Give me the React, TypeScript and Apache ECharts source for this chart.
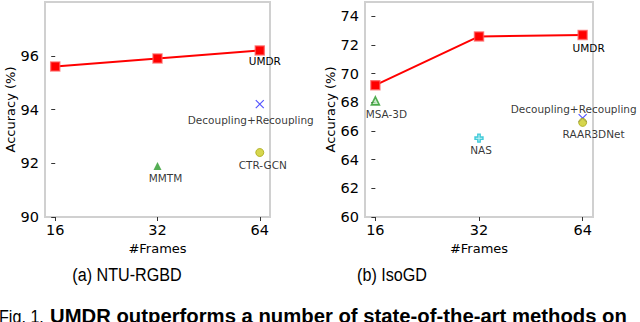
import React, { useEffect, useRef } from "react";
import * as echarts from "echarts";

// ---- data ----
const frames = ["16", "32", "64"];

const ntuUMDR = [95.6, 95.9, 96.2];
const ntuMethods = ["MMTM", "CTR-GCN", "Decoupling+Recoupling"];
const ntuMethodFrame = [1, 2, 2];
const ntuMethodAcc = [91.9, 92.4, 94.2];
const ntuYTicks = [90, 92, 94, 96];

const isoUMDR = [69.2, 72.6, 72.7];
const isoMethods = ["MSA-3D", "NAS", "Decoupling+Recoupling", "RAAR3DNet"];
const isoMethodFrame = [0, 1, 2, 2];
const isoMethodAcc = [68.1, 65.5, 66.9, 66.6];
const isoYTicks = [60, 62, 64, 66, 68, 70, 72, 74];

const subtitles = ["(a) NTU-RGBD", "(b) IsoGD"];
const captionPrefix = "Fig. 1.";
const captionBold = "UMDR outperforms a number of state-of-the-art methods on";

// ---- styles ----
const FONT = "DejaVu Sans";
const crossPath = "path://M0,0L10,10M10,0L0,10";
const plusPath = "path://M3.5,0H6.5V3.5H10V6.5H6.5V10H3.5V6.5H0V3.5H3.5Z";

const markerStyle: Record<string, any> = {
  MMTM: { symbol: "triangle", symbolSize: 8, itemStyle: { color: "#2a9a2a" } },
  "MSA-3D": {
    symbol: "triangle",
    symbolSize: 8,
    itemStyle: { color: "#bfe6bf", borderColor: "#2a9a2a", borderWidth: 1.6 },
  },
  "CTR-GCN": {
    symbol: "circle",
    symbolSize: 8,
    itemStyle: { color: "#cccc22", borderColor: "#a8a810", borderWidth: 1 },
  },
  RAAR3DNet: {
    symbol: "circle",
    symbolSize: 8,
    itemStyle: { color: "#cccc22", borderColor: "#a8a810", borderWidth: 1 },
  },
  "Decoupling+Recoupling": {
    symbol: crossPath,
    symbolSize: 8,
    itemStyle: { color: "none", borderColor: "#2b2bff", borderWidth: 1.2 },
  },
  NAS: {
    symbol: plusPath,
    symbolSize: 8,
    itemStyle: { color: "#b8f0f4", borderColor: "#17becf", borderWidth: 1.4 },
  },
};

const ntuLabelOffset: Record<string, number[]> = {
  UMDR: [5, 11],
  MMTM: [8, 12],
  "CTR-GCN": [3, 12],
  "Decoupling+Recoupling": [-9, 16],
};
const isoLabelOffset: Record<string, number[]> = {
  UMDR: [6, 13],
  "MSA-3D": [11, 13],
  NAS: [2, 12],
  RAAR3DNet: [11, 12],
  "Decoupling+Recoupling": [-9, -9],
};

function labelOf(offset: number[]) {
  return {
    show: true,
    position: "inside",
    offset,
    formatter: "{a}",
    color: "#000",
    fontFamily: FONT,
    fontSize: 10.5,
  };
}

function buildSeries(
  idx: number,
  umdr: number[],
  methods: string[],
  mFrame: number[],
  mAcc: number[],
  offsets: Record<string, number[]>
) {
  const series: any[] = [];
  methods.forEach((m, i) => {
    const st = markerStyle[m];
    series.push({
      type: "scatter",
      name: m,
      xAxisIndex: idx,
      yAxisIndex: idx,
      symbol: st.symbol,
      symbolSize: st.symbolSize,
      itemStyle: st.itemStyle,
      label: labelOf(offsets[m]),
      data: [[mFrame[i], mAcc[i]]],
      z: m === "Decoupling+Recoupling" ? 2 : 3,
    });
  });
  series.push({
    type: "line",
    name: "UMDR",
    xAxisIndex: idx,
    yAxisIndex: idx,
    symbol: "rect",
    symbolSize: 9,
    lineStyle: { color: "#ff0000", width: 2 },
    itemStyle: { color: "#ff0000", borderColor: "rgba(255,90,90,0.7)", borderWidth: 1.5 },
    data: umdr.map((v, i) => ({
      value: [i, v],
      label: i === umdr.length - 1 ? labelOf(offsets.UMDR) : { show: false },
    })),
    z: 4,
  });
  return series;
}

function xAxisOf(idx: number) {
  return {
    type: "value",
    gridIndex: idx,
    min: -0.1,
    max: 2.1,
    name: "#Frames",
    nameLocation: "middle",
    nameGap: 23,
    nameTextStyle: { fontFamily: FONT, fontSize: 13, color: "#000" },
    splitLine: { show: false },
    axisLine: { show: false },
    axisTick: {
      show: true,
      length: 4,
      customValues: frames.map((_, i) => i),
      lineStyle: { color: "#333", width: 1 },
    },
    axisLabel: {
      customValues: frames.map((_, i) => i),
      formatter: (v: number) => frames[Math.round(v)],
      fontFamily: FONT,
      fontSize: 14.5,
      color: "#000",
      margin: 5,
    },
  };
}

function yAxisOf(idx: number, min: number, max: number, ticks: number[], gap: number) {
  return {
    type: "value",
    gridIndex: idx,
    min,
    max,
    name: "Accuracy (%)",
    nameLocation: "middle",
    nameGap: gap,
    nameTextStyle: { fontFamily: FONT, fontSize: 13, color: "#000" },
    splitLine: { show: false },
    axisLine: { show: false },
    axisTick: {
      show: true,
      length: 4,
      customValues: ticks,
      lineStyle: { color: "#333", width: 1 },
    },
    axisLabel: {
      customValues: ticks,
      fontFamily: FONT,
      fontSize: 14.5,
      color: "#000",
      margin: 6,
    },
  };
}

export default function App() {
  const ref = useRef<HTMLDivElement>(null);
  useEffect(() => {
    if (!ref.current) return;
    const chart = echarts.init(ref.current, null, { renderer: "svg" });
    const gridBase = {
      show: true,
      borderColor: "#d0d0d0",
      borderWidth: 2,
      backgroundColor: "transparent",
      top: 2,
      bottom: 105,
    };
    chart.setOption({
      animation: false,
      backgroundColor: "#fff",
      grid: [
        { ...gridBase, left: 45, right: 370 },
        { ...gridBase, left: 365, right: 47 },
      ],
      xAxis: [xAxisOf(0), xAxisOf(1)],
      yAxis: [
        yAxisOf(0, 90, 98, ntuYTicks, 27),
        yAxisOf(1, 60, 75, isoYTicks, 26),
      ],
      series: [
        ...buildSeries(0, ntuUMDR, ntuMethods, ntuMethodFrame, ntuMethodAcc, ntuLabelOffset),
        ...buildSeries(1, isoUMDR, isoMethods, isoMethodFrame, isoMethodAcc, isoLabelOffset),
      ],
      graphic: [
        {
          type: "text",
          x: 127,
          y: 275,
          scaleX: 0.85,
          style: {
            text: subtitles[0],
            fontFamily: "Liberation Sans",
            fontSize: 19,
            fill: "#000",
            align: "center",
            verticalAlign: "middle",
          },
        },
        {
          type: "text",
          x: 392,
          y: 275,
          scaleX: 0.85,
          style: {
            text: subtitles[1],
            fontFamily: "Liberation Sans",
            fontSize: 19,
            fill: "#000",
            align: "center",
            verticalAlign: "middle",
          },
        },
        {
          type: "text",
          x: -1,
          y: 307,
          scaleX: 0.85,
          style: {
            text: captionPrefix,
            fill: "#000",
            verticalAlign: "top",
            fontFamily: "Liberation Sans",
            fontSize: 19,
          },
        },
        {
          type: "text",
          x: 50,
          y: 306,
          style: {
            text: captionBold,
            fill: "#000",
            verticalAlign: "top",
            fontFamily: "Liberation Sans",
            fontWeight: "bold",
            fontSize: 20.3,
          },
        },
      ],
    });
    return () => chart.dispose();
  }, []);
  return (
    <div
      ref={ref}
      style={{ position: "fixed", left: 0, top: 0, width: 640, height: 322 }}
    />
  );
}
